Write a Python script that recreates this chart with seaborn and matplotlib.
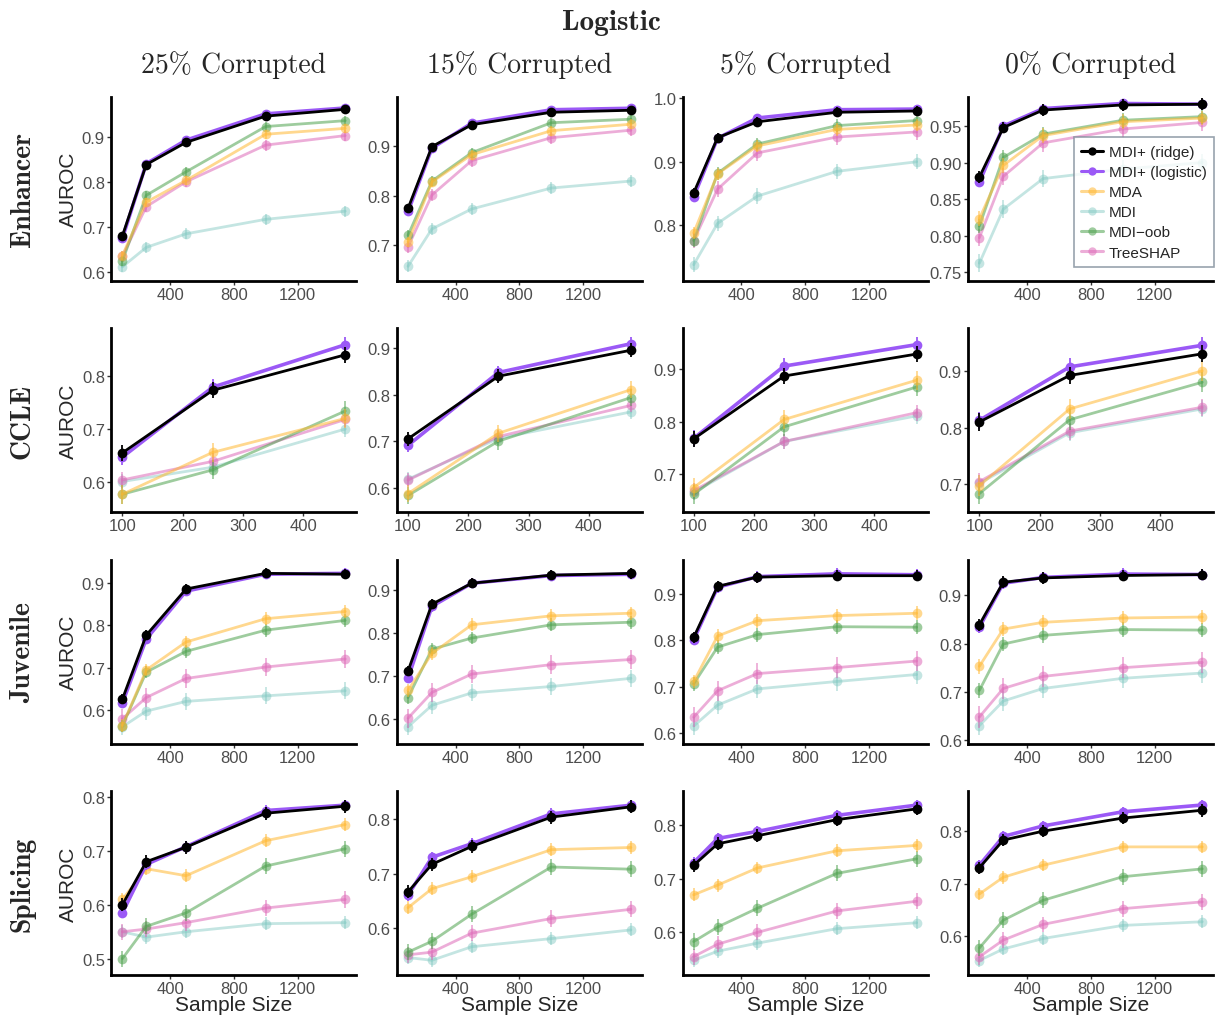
import matplotlib
matplotlib.use("Agg")
import numpy as np
import pandas as pd
import matplotlib.pyplot as plt
import seaborn as sns
from matplotlib.ticker import MultipleLocator, FormatStrFormatter

methods = ["MDI+ (ridge)", "MDI+ (logistic)", "MDA", "MDI", "MDI\u2212oob", "TreeSHAP"]
palette = ["#000000", "#9B59F6", "#FFB833", "#7CC6BF", "#4FA24F", "#DE6BB8"]
alphas = [1.0, 1.0, 0.55, 0.45, 0.55, 0.55]

datasets = ["Enhancer", "CCLE", "Juvenile", "Splicing"]
corruptions = ["25% Corrupted", "15% Corrupted", "5% Corrupted", "0% Corrupted"]

n_main = [100, 250, 500, 1000, 1500]
n_ccle = [100, 250, 470]

# rows: ridge, logistic, MDA, MDI, MDI-oob, TreeSHAP
enhancer_25 = [[0.680, 0.838, 0.887, 0.945, 0.960], [0.675, 0.840, 0.892, 0.950, 0.963],
               [0.637, 0.755, 0.803, 0.905, 0.918], [0.612, 0.655, 0.685, 0.717, 0.735],
               [0.625, 0.770, 0.822, 0.922, 0.935], [0.635, 0.745, 0.800, 0.881, 0.902]]
enhancer_15 = [[0.774, 0.898, 0.942, 0.967, 0.971], [0.768, 0.895, 0.945, 0.972, 0.975],
               [0.707, 0.827, 0.882, 0.930, 0.943], [0.658, 0.733, 0.773, 0.815, 0.829],
               [0.720, 0.829, 0.886, 0.946, 0.953], [0.697, 0.801, 0.870, 0.916, 0.931]]
enhancer_5 = [[0.851, 0.938, 0.963, 0.978, 0.980], [0.845, 0.937, 0.969, 0.982, 0.983],
              [0.788, 0.881, 0.925, 0.951, 0.958], [0.738, 0.803, 0.846, 0.885, 0.900],
              [0.776, 0.882, 0.928, 0.957, 0.965], [0.776, 0.857, 0.914, 0.939, 0.947]]
enhancer_0 = [[0.880, 0.948, 0.972, 0.979, 0.980], [0.873, 0.950, 0.974, 0.981, 0.980],
              [0.823, 0.896, 0.937, 0.956, 0.961], [0.762, 0.836, 0.878, 0.891, 0.900],
              [0.813, 0.907, 0.939, 0.958, 0.963], [0.797, 0.881, 0.927, 0.946, 0.955]]

ccle_25 = [[0.655, 0.773, 0.840], [0.647, 0.779, 0.859], [0.577, 0.656, 0.720],
           [0.601, 0.628, 0.700], [0.577, 0.623, 0.734], [0.604, 0.639, 0.718]]
ccle_15 = [[0.705, 0.840, 0.896], [0.691, 0.848, 0.910], [0.587, 0.717, 0.811],
           [0.618, 0.706, 0.763], [0.583, 0.700, 0.794], [0.616, 0.710, 0.777]]
ccle_5 = [[0.767, 0.887, 0.929], [0.768, 0.906, 0.947], [0.674, 0.804, 0.879],
          [0.665, 0.762, 0.811], [0.661, 0.790, 0.866], [0.668, 0.762, 0.817]]
ccle_0 = [[0.810, 0.892, 0.930], [0.813, 0.907, 0.945], [0.698, 0.833, 0.900],
          [0.702, 0.791, 0.833], [0.684, 0.814, 0.880], [0.705, 0.794, 0.836]]

juvenile_25 = [[0.626, 0.777, 0.886, 0.923, 0.921], [0.617, 0.768, 0.881, 0.921, 0.923],
               [0.564, 0.695, 0.761, 0.816, 0.833], [0.561, 0.598, 0.621, 0.634, 0.646],
               [0.563, 0.690, 0.739, 0.789, 0.812], [0.580, 0.630, 0.675, 0.702, 0.721]]
juvenile_15 = [[0.711, 0.867, 0.916, 0.935, 0.939], [0.694, 0.862, 0.916, 0.934, 0.937],
               [0.666, 0.752, 0.819, 0.840, 0.846], [0.581, 0.631, 0.660, 0.675, 0.694],
               [0.649, 0.762, 0.788, 0.819, 0.825], [0.601, 0.661, 0.704, 0.726, 0.738]]
juvenile_5 = [[0.806, 0.916, 0.936, 0.939, 0.939], [0.801, 0.914, 0.937, 0.943, 0.941],
              [0.711, 0.809, 0.842, 0.853, 0.858], [0.615, 0.660, 0.695, 0.711, 0.726],
              [0.706, 0.785, 0.812, 0.829, 0.828], [0.634, 0.691, 0.728, 0.741, 0.755]]
juvenile_0 = [[0.839, 0.927, 0.936, 0.941, 0.943], [0.834, 0.925, 0.937, 0.944, 0.943],
              [0.753, 0.830, 0.844, 0.853, 0.855], [0.630, 0.681, 0.707, 0.728, 0.739],
              [0.703, 0.799, 0.817, 0.829, 0.828], [0.648, 0.707, 0.732, 0.750, 0.761]]

splicing_25 = [[0.600, 0.680, 0.707, 0.770, 0.783], [0.585, 0.675, 0.708, 0.775, 0.785],
               [0.610, 0.667, 0.654, 0.719, 0.749], [0.550, 0.540, 0.550, 0.565, 0.567],
               [0.500, 0.560, 0.585, 0.672, 0.704], [0.550, 0.555, 0.567, 0.594, 0.610]]
splicing_15 = [[0.666, 0.717, 0.750, 0.804, 0.823], [0.660, 0.730, 0.755, 0.810, 0.826],
               [0.637, 0.672, 0.694, 0.744, 0.748], [0.545, 0.540, 0.565, 0.580, 0.596],
               [0.555, 0.575, 0.625, 0.712, 0.708], [0.550, 0.555, 0.590, 0.617, 0.634]]
splicing_5 = [[0.725, 0.765, 0.780, 0.810, 0.830], [0.730, 0.775, 0.788, 0.818, 0.837],
              [0.670, 0.688, 0.720, 0.752, 0.762], [0.548, 0.565, 0.580, 0.607, 0.618],
              [0.583, 0.610, 0.645, 0.710, 0.737], [0.555, 0.578, 0.600, 0.640, 0.658]]
splicing_0 = [[0.730, 0.783, 0.800, 0.825, 0.840], [0.735, 0.790, 0.810, 0.837, 0.850],
              [0.680, 0.712, 0.735, 0.770, 0.770], [0.553, 0.575, 0.595, 0.620, 0.627],
              [0.577, 0.630, 0.668, 0.713, 0.728], [0.560, 0.592, 0.622, 0.652, 0.665]]

# error bar half-widths per method
err_enhancer = [0.008, 0.006, 0.010, 0.012, 0.010, 0.012]
err_ccle = [0.015, 0.015, 0.018, 0.015, 0.018, 0.015]
err_juvenile = [0.012, 0.012, 0.015, 0.020, 0.015, 0.022]
err_splicing = [0.012, 0.010, 0.012, 0.012, 0.015, 0.015]

grid = [[enhancer_25, enhancer_15, enhancer_5, enhancer_0],
        [ccle_25, ccle_15, ccle_5, ccle_0],
        [juvenile_25, juvenile_15, juvenile_5, juvenile_0],
        [splicing_25, splicing_15, splicing_5, splicing_0]]
errs = [err_enhancer, err_ccle, err_juvenile, err_splicing]
sizes = [n_main, n_ccle, n_main, n_main]

sns.set_style("white")
plt.rcParams['font.family'] = ['Liberation Sans', 'DejaVu Sans']

fig, axes = plt.subplots(4, 4, figsize=(12.22, 10.20), dpi=100)
fig.subplots_adjust(left=0.091, right=0.993, top=0.904, bottom=0.043, wspace=0.165, hspace=0.26)

draw_order = [3, 5, 4, 2, 1, 0]
for r in range(4):
    for c in range(4):
        ax = axes[r, c]
        vals = grid[r][c]
        xs = sizes[r]
        df = pd.DataFrame([(methods[m], xs[k], vals[m][k], errs[r][m])
                           for m in range(6) for k in range(len(xs))],
                          columns=["method", "n", "auroc", "err"])
        for m in draw_order:
            sub = df[df.method == methods[m]]
            lw = 2.6 if m == 1 else 2.0
            sns.lineplot(data=sub, x="n", y="auroc", color=palette[m], alpha=alphas[m],
                         lw=lw, marker="o", markersize=7, markeredgewidth=0,
                         ax=ax, legend=False, zorder=2 if m > 1 else 4 - m)
            ax.vlines(sub.n, sub.auroc - sub.err, sub.auroc + sub.err,
                      color=palette[m], alpha=alphas[m], lw=1.3, zorder=4 - m if m < 2 else 2)
        ax.set_xlabel("Sample Size" if r == 3 else "", fontsize=15, labelpad=-1)
        ax.set_ylabel("AUROC" if c == 0 else "", fontsize=15, labelpad=3)
        if r == 1:
            ax.set_xticks([100, 200, 300, 400])
        else:
            ax.set_xticks([400, 800, 1200])
        if r == 0 and c == 3:
            ax.yaxis.set_major_locator(MultipleLocator(0.05))
            ax.yaxis.set_major_formatter(FormatStrFormatter("%.2f"))
            ax.set_ylim(top=0.99)
        else:
            ax.yaxis.set_major_locator(MultipleLocator(0.1))
            ax.yaxis.set_major_formatter(FormatStrFormatter("%.1f"))
        ax.tick_params(axis="both", labelsize=12, labelcolor="#4D4D4D", length=3,
                       width=1, color="#333333", left=True, bottom=True, pad=1.5)
        sns.despine(ax=ax)
        for s in ["left", "bottom"]:
            ax.spines[s].set_linewidth(2)
            ax.spines[s].set_color("black")
        if r == 0:
            ax.set_title(corruptions[c], family="cmr10", fontsize=20, pad=18)
        if c == 0:
            ax.text(-0.36, 0.5, datasets[r], transform=ax.transAxes, rotation=90,
                    ha="center", va="center", family="cmb10", fontsize=20)

handles = [plt.Line2D([], [], color=palette[m], alpha=alphas[m], lw=2.2, marker="o",
                      markersize=6, markeredgewidth=0) for m in range(6)]
leg = axes[0, 3].legend(handles, methods, loc="upper left", bbox_to_anchor=(0.43, 0.78),
                        fontsize=11, frameon=True, fancybox=False, handlelength=1.4,
                        borderpad=0.5, labelspacing=0.4, handletextpad=0.4,
                        borderaxespad=0)
leg.get_frame().set_edgecolor("#7F8C99")
leg.get_frame().set_linewidth(1.2)

fig.suptitle("Logistic", family="cmb10", fontsize=21, y=0.99)

fig.savefig("out.png", dpi=100)
